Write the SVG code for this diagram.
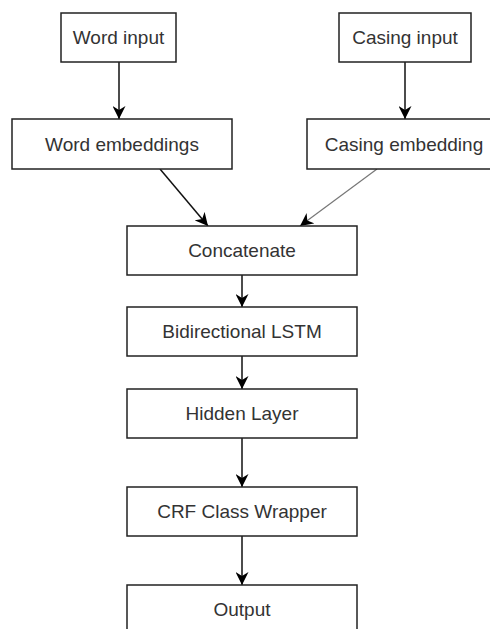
<svg xmlns="http://www.w3.org/2000/svg" width="490" height="629" viewBox="0 0 490 629">
<style>
.box{fill:#fff;stroke:#222;stroke-width:1.5}
.lbl{font-family:"Liberation Sans",Arial,sans-serif;font-size:19px;fill:#333;text-anchor:middle}
.conn{stroke:#111;stroke-width:1.5;fill:none;marker-end:url(#arr)}
.conn2{stroke:#777;stroke-width:1.2;fill:none;marker-end:url(#arr)}
</style>
<defs>
<marker id="arr" viewBox="0 0 10 10" refX="10" refY="5" markerWidth="13" markerHeight="13" markerUnits="userSpaceOnUse" orient="auto">
<path d="M0,0 L10,5 L0,10 L3,5 z" fill="#000"/>
</marker>
</defs>
<rect width="490" height="629" fill="#fff"/>
<g id="connectors">
<line class="conn" x1="119" y1="62" x2="119" y2="119"/>
<line class="conn" x1="405" y1="62" x2="405" y2="119"/>
<line class="conn" x1="160" y1="169" x2="208" y2="226"/>
<line class="conn2" x1="377" y1="169" x2="300" y2="226"/>
<line class="conn" x1="242" y1="275" x2="242" y2="307"/>
<line class="conn" x1="242" y1="356" x2="242" y2="389"/>
<line class="conn" x1="242" y1="438" x2="242" y2="487"/>
<line class="conn" x1="242" y1="536" x2="242" y2="585"/>
</g>
<g id="word_input"><rect class="box" x="61" y="13" width="115" height="49"/><text class="lbl" x="118.5" y="44">Word input</text></g>
<g id="casing_input"><rect class="box" x="339" y="13" width="132" height="49"/><text class="lbl" x="405" y="44">Casing input</text></g>
<g id="word_embeddings"><rect class="box" x="12" y="119" width="220" height="50"/><text class="lbl" x="122" y="151">Word embeddings</text></g>
<g id="casing_embedding"><rect class="box" x="307" y="119" width="196" height="50"/><text class="lbl" x="404" y="151">Casing embedding</text></g>
<g id="concatenate"><rect class="box" x="127" y="226" width="230" height="49"/><text class="lbl" x="242" y="257">Concatenate</text></g>
<g id="bilstm"><rect class="box" x="127" y="307" width="230" height="49"/><text class="lbl" x="242" y="338">Bidirectional LSTM</text></g>
<g id="hidden_layer"><rect class="box" x="127" y="389" width="230" height="49"/><text class="lbl" x="242" y="420">Hidden Layer</text></g>
<g id="crf"><rect class="box" x="127" y="487" width="230" height="49"/><text class="lbl" x="242" y="518">CRF Class Wrapper</text></g>
<g id="output"><rect class="box" x="127" y="585" width="230" height="49"/><text class="lbl" x="242" y="616">Output</text></g>
</svg>
